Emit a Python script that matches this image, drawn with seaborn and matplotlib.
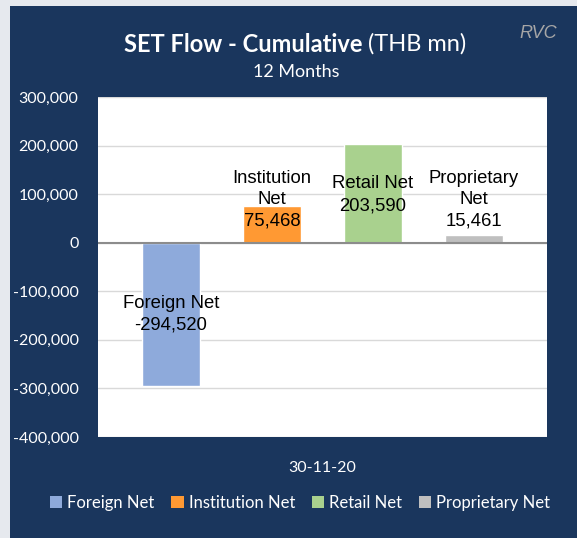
import pandas as pd
import matplotlib.pyplot as plt
import seaborn as sns
from matplotlib.patches import Rectangle
from matplotlib.ticker import FuncFormatter

# --- Data ---
dates = ['30-11-20']
series = ['Foreign Net', 'Institution Net', 'Retail Net', 'Proprietary Net']
values = [-294520, 75468, 203590, 15461]
label_texts = ['Foreign Net\n-294,520', 'Institution\nNet\n75,468', 'Retail Net\n203,590', 'Proprietary\nNet\n15,461']
label_y = [-148000, 88500, 98800, 88500]
colors = ['#8eaadb', '#ff9933', '#a9d18e', '#bfbfbf']

NAVY = '#1a365d'
BORDER = '#e6e9ee'
UI_FONT = 'Lato'

df = pd.DataFrame({'date': dates * len(series), 'series': series, 'value': values})

sns.set_theme(style='white')
plt.rcParams['font.family'] = ['Liberation Sans', 'DejaVu Sans']

fig = plt.figure(figsize=(5.77, 5.38), dpi=100)
fig.patch.set_facecolor(NAVY)
# light border strips at left and top
fig.patches.append(Rectangle((0, 0), 10 / 577, 1, transform=fig.transFigure,
                             facecolor=BORDER, edgecolor='none'))
fig.patches.append(Rectangle((0, 1 - 6 / 538), 1, 6 / 538, transform=fig.transFigure,
                             facecolor=BORDER, edgecolor='none'))

ax = fig.add_axes([98 / 577, 1 - 437 / 538, 449 / 577, 340 / 538])
ax.set_facecolor('white')

sns.barplot(data=df, x='date', y='value', hue='series', palette=colors, hue_order=series,
            width=0.9, gap=0.43, saturation=1, ax=ax, zorder=3)

ax.set_ylim(-400000, 300000)
ax.set_yticks(range(-400000, 300001, 100000))
ax.yaxis.set_major_formatter(FuncFormatter(lambda v, p: f'{v:,.0f}'))
ax.grid(axis='y', color='#d9d9d9', linewidth=1, zorder=0)
ax.set_axisbelow(True)
ax.axhline(0, color='#8c8c8c', linewidth=1.5, zorder=4)
for s in ax.spines.values():
    s.set_visible(False)

ax.tick_params(axis='y', length=0, labelcolor='white', labelsize=11.5, pad=14)
ax.tick_params(axis='x', length=0, labelcolor='white', labelsize=11.5, pad=17)
for t in ax.get_yticklabels() + ax.get_xticklabels():
    t.set_family(UI_FONT)
ax.set_xlabel('')
ax.set_ylabel('')

# data labels
for cont, txt, ly in zip(ax.containers, label_texts, label_y):
    bar = cont.patches[0]
    cx = bar.get_x() + bar.get_width() / 2
    ax.text(cx, ly, txt, ha='center', va='center', fontsize=13.3, color='black',
            linespacing=1.35, zorder=5)

# legend
handles, labels = ax.get_legend_handles_labels()
if ax.get_legend() is not None:
    ax.get_legend().remove()
for h in handles:
    h.set_edgecolor('none')
leg = fig.legend(handles, labels, loc='center', bbox_to_anchor=(0.52, 1 - 503 / 538), ncol=4,
                 frameon=False, handlelength=0.75, handleheight=0.75, handletextpad=0.3,
                 columnspacing=1.0, prop={'family': UI_FONT, 'size': 12})
for t in leg.get_texts():
    t.set_color('white')

# title: bold part + regular part
fig.canvas.draw()
r = fig.canvas.get_renderer()
t1 = fig.text(0, 1 - 44 / 538, 'SET Flow - Cumulative', fontsize=17, fontweight='bold',
              color='white', family=UI_FONT, va='center', ha='left')
t2 = fig.text(0, 1 - 44 / 538, ' (THB mn)', fontsize=17, color='white',
              family=UI_FONT, va='center', ha='left')
w1 = t1.get_window_extent(r).width
w2 = t2.get_window_extent(r).width
x0 = 295 - (w1 + w2) / 2
t1.set_x(x0 / 577)
t2.set_x((x0 + w1) / 577)
fig.text(296 / 577, 1 - 72 / 538, '12 Months', fontsize=13, color='white', family=UI_FONT,
         ha='center', va='center')
fig.text(538 / 577, 1 - 33 / 538, 'RVC', fontsize=13, color='#a6a6a6', style='italic',
         ha='center', va='center')

fig.savefig('out.png', dpi=100, facecolor=fig.get_facecolor())
